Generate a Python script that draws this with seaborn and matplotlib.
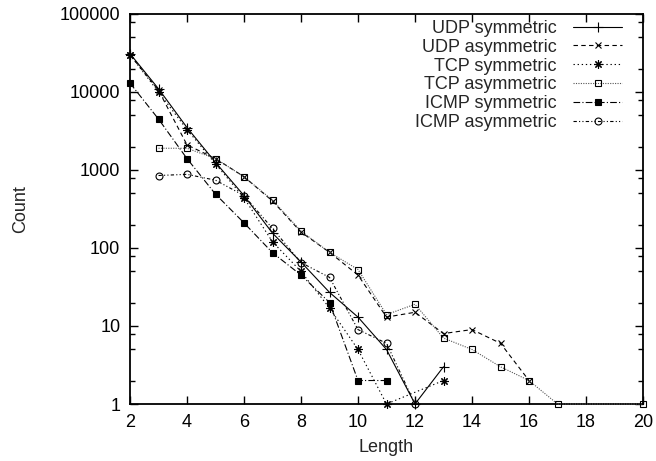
import matplotlib
matplotlib.use("Agg")
import matplotlib.pyplot as plt
import matplotlib.ticker as mticker
import seaborn as sns
import pandas as pd
import numpy as np

sns.set_style("ticks")
plt.rcParams['font.family'] = ['Liberation Sans', 'DejaVu Sans']

# ---- data ----
udp_sym_x = [2, 3, 4, 5, 6, 7, 8, 9, 10, 11, 12, 13]
udp_sym_y = [31000, 11000, 3500, 1250, 470, 155, 66, 27, 13, 5, 1, 3]

udp_asym_x = [2, 3, 4, 5, 6, 7, 8, 9, 10, 11, 12, 13, 14, 15, 16]
udp_asym_y = [30000, 10500, 2100, 1400, 820, 400, 160, 88, 45, 13, 15, 8, 9, 6, 2]

tcp_sym_x = [2, 3, 4, 5, 6, 7, 8, 9, 10, 11, 13]
tcp_sym_y = [30000, 10000, 3300, 1200, 440, 120, 50, 17, 5, 1, 2]

tcp_asym_x = [3, 4, 5, 6, 7, 8, 9, 10, 11, 12, 13, 14, 15, 16, 17, 20]
tcp_asym_y = [1900, 1900, 1400, 820, 410, 165, 88, 53, 14, 19, 7, 5, 3, 2, 1, 1]

icmp_sym_x = [2, 3, 4, 5, 6, 7, 8, 9, 10, 11]
icmp_sym_y = [13000, 4500, 1400, 490, 210, 87, 45, 20, 2, 2]

icmp_asym_x = [3, 4, 5, 6, 7, 8, 9, 10, 11, 12]
icmp_asym_y = [850, 880, 740, 470, 178, 65, 42, 9, 6, 1]

labels = ["UDP symmetric", "UDP asymmetric", "TCP symmetric",
          "TCP asymmetric", "ICMP symmetric", "ICMP asymmetric"]
xticks = [2, 4, 6, 8, 10, 12, 14, 16, 18, 20]
yticks = [1, 10, 100, 1000, 10000, 100000]
ytick_labels = ["1", "10", "100", "1000", "10000", "100000"]

series = [(udp_sym_x, udp_sym_y), (udp_asym_x, udp_asym_y), (tcp_sym_x, tcp_sym_y),
          (tcp_asym_x, tcp_asym_y), (icmp_sym_x, icmp_sym_y), (icmp_asym_x, icmp_asym_y)]

styles = [
    dict(color="black", ls="-", marker="+", ms=7, mfc="none"),
    dict(color="black", ls=(0, (4, 3)), marker="x", ms=5, mfc="none"),
    dict(color="black", ls=(0, (1.2, 2.5)), marker=(8, 2, 0), ms=6, mfc="none"),
    dict(color="#555555", ls=(0, (1, 1.2)), marker="s", ms=5, mfc="none", mec="black"),
    dict(color="black", ls=(0, (6, 2, 1, 2)), marker="s", ms=5, mfc="black", mec="black"),
    dict(color="black", ls=(0, (3, 2, 1, 2, 1, 2)), marker="o", ms=5, mfc="none", mec="black"),
]

fig = plt.figure(figsize=(6.56, 4.61), dpi=100)
ax = fig.add_axes([130 / 656, 1 - 404 / 461, (643 - 130) / 656, (404 - 14) / 461])

for (xs, ys), lab, st in zip(series, labels, styles):
    df = pd.DataFrame({"Length": xs, "Count": ys})
    sns.lineplot(data=df, x="Length", y="Count", ax=ax, label=lab,
                 color=st["color"], linewidth=0.8, sort=True, errorbar=None,
                 legend=False)
    ln = ax.lines[-1]
    ln.set_linestyle(st["ls"])
    ln.set_marker(st["marker"])
    ln.set_markersize(st["ms"])
    ln.set_markerfacecolor(st["mfc"])
    ln.set_markeredgecolor(st.get("mec", "black"))
    ln.set_markeredgewidth(0.8)
    ln.set_clip_on(False)
    ln.set_zorder(3)
    ln.set_label(lab)

ax.set_yscale("log")
ax.set_xlim(2, 20)
ax.set_ylim(1, 100000)
ax.set_xticks(xticks)
ax.set_xticklabels([str(v) for v in xticks])
ax.yaxis.set_major_locator(mticker.FixedLocator(yticks))
ax.yaxis.set_major_formatter(mticker.FixedFormatter(ytick_labels))
ax.yaxis.set_minor_locator(mticker.LogLocator(base=10, subs=(2, 5, 8)))
ax.yaxis.set_minor_formatter(mticker.NullFormatter())

ax.tick_params(axis="both", which="both", direction="in", top=True, right=True,
               labelsize=13, colors="black", width=1.0)
ax.tick_params(axis="both", which="major", length=6, pad=7)
ax.tick_params(axis="y", which="minor", length=3.5)
for sp in ax.spines.values():
    sp.set_linewidth(1.3)
    sp.set_color("black")
    sp.set_visible(True)
    sp.set_zorder(2.5)

ax.set_xlabel("Length", fontsize=13, labelpad=6)
ax.set_ylabel("Count", fontsize=13, labelpad=22)

handles = ax.lines[:6]
leg = ax.legend(handles=handles, labels=labels, loc="upper right",
                bbox_to_anchor=(622 / 656, 1 - 20 / 461), bbox_transform=fig.transFigure,
                frameon=False, markerfirst=False, fontsize=13,
                handlelength=2.7, handletextpad=0.9, labelspacing=0.1,
                borderpad=0, borderaxespad=0)

fig.savefig("out.png", dpi=100)
